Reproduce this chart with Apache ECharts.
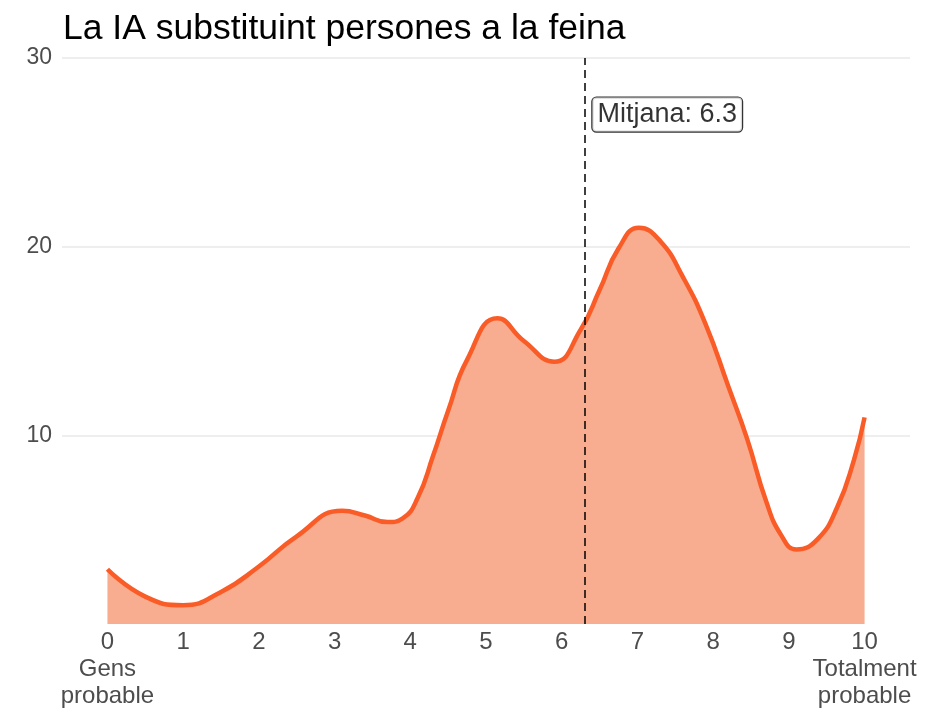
<!DOCTYPE html>
<html lang="ca">
<head>
    <meta charset="UTF-8">
    <title>La IA substituint persones a la feina</title>
    <style>
        * { padding: 0; margin: 0; }
        .EC { width: 925px; height: 710px; }
    </style>
</head>
<body>
<div class="EC"></div>
<script src="https://cdn.jsdelivr.net/npm/echarts@6/dist/echarts.min.js"></script>
<script>
    // valors llegits del gràfic (corba de densitat)
    const xValues = [0, 0.5, 1.0, 1.5, 2.0, 2.5, 3.1, 3.4, 3.7, 3.9, 4.1, 4.3, 4.5, 4.75, 5.15, 5.5, 5.9,
        6.25, 6.5, 6.75, 7.02, 7.3, 7.6, 7.9, 8.2, 8.45, 8.7, 8.9, 9.1, 9.38, 9.64, 9.86, 10]
    const yValues = [2.9, 1.45, 1.0, 1.7, 3.05, 4.65, 6.0, 5.75, 5.4, 5.6, 6.7, 8.9, 11.3, 14.0, 16.2, 15.0, 13.9,
        15.6, 17.7, 19.9, 21.0, 20.3, 18.4, 15.9, 12.6, 9.8, 6.5, 4.7, 3.95, 4.5, 6.2, 8.7, 10.95]
    const xTicks = [0, 1, 2, 3, 4, 5, 6, 7, 8, 9, 10]
    const xTickLabels = { 0: '0\nGens\nprobable', 10: '10\nTotalment\nprobable' }
    const meanValue = 6.3
    const meanLabelY = 27

    const EC = echarts.init(document.querySelector('.EC'))
    const font = 'Liberation Sans, Arial, sans-serif'

    const option = {
        backgroundColor: '#fff',
        animation: false,
        title: {
            text: 'La IA substituint persones a la feina',
            left: 58,
            top: 6,
            textStyle: { fontFamily: font, fontSize: 35.5, fontWeight: 'normal', color: '#000' }
        },
        grid: { left: 62, right: 15, top: 58, bottom: 85 },
        xAxis: {
            type: 'value',
            min: -0.6,
            max: 10.6,
            axisLine: { show: false },
            axisTick: { show: false },
            splitLine: { show: false },
            axisLabel: {
                customValues: xTicks,
                formatter: v => xTickLabels[v] || String(v),
                fontFamily: font,
                fontSize: 24,
                lineHeight: 27,
                color: '#4d4d4d',
                margin: 5
            }
        },
        yAxis: {
            type: 'value',
            min: 0,
            max: 30,
            interval: 10,
            axisLine: { show: false },
            axisTick: { show: false },
            axisLabel: {
                formatter: v => v === 0 ? '' : String(v),
                fontFamily: font,
                fontSize: 23,
                color: '#4d4d4d',
                margin: 10
            },
            splitLine: {
                lineStyle: { color: ['rgba(0,0,0,0)', '#e8e8e8', '#e8e8e8', '#e8e8e8'], width: 1.5 }
            }
        },
        series: [{
            type: 'line',
            data: xValues.map((x, i) => [x, yValues[i]]),
            smooth: 0.5,
            symbol: 'none',
            lineStyle: { color: '#fa5c27', width: 4.5 },
            areaStyle: { color: '#f9ad90', opacity: 1 },
            markLine: {
                silent: true,
                symbol: 'none',
                label: { show: false },
                lineStyle: { color: '#000', type: [8, 5], width: 1.5 },
                data: [{ xAxis: meanValue }]
            },
            z: 2
        }, {
            type: 'scatter',
            data: [[meanValue, meanLabelY]],
            symbolSize: 0,
            silent: true,
            label: {
                show: true,
                position: 'right',
                distance: 8,
                formatter: 'Mitjana: ' + meanValue,
                fontFamily: font,
                fontSize: 27,
                color: '#000',
                backgroundColor: '#fff',
                borderColor: '#000',
                borderWidth: 1.2,
                borderRadius: 4,
                padding: [4, 5, 3, 5]
            },
            z: 5
        }]
    }
    EC.setOption(option)
</script>
</body>
</html>
